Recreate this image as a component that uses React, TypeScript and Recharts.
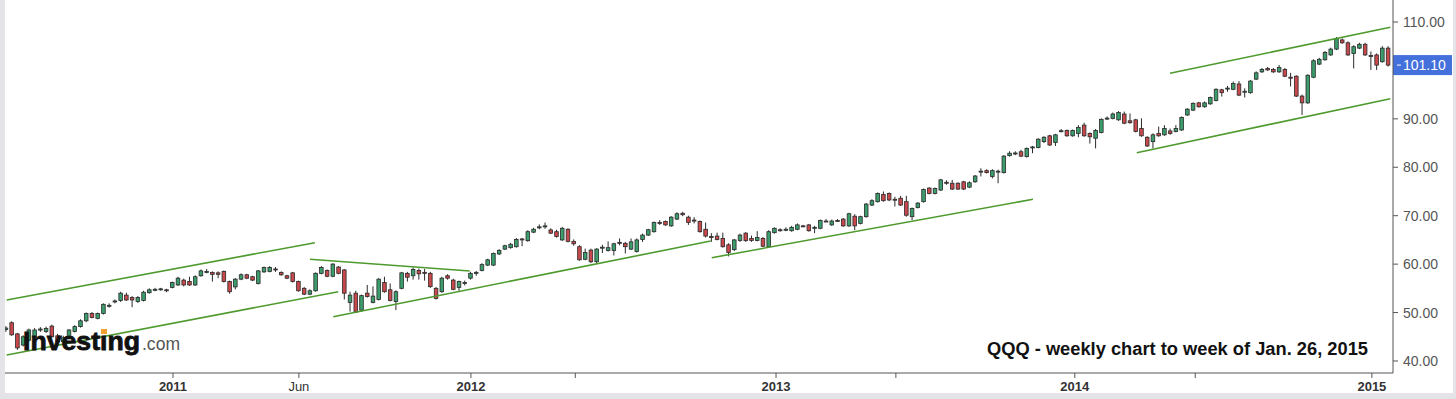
import React from "react";
import { ComposedChart, Bar, XAxis, YAxis, ReferenceLine } from "recharts";

// weekly candles, [open, high, low, close]
type Candle = [number, number, number, number];

const weeks2010: Candle[] = [
  [46.5, 47.2, 46.0, 46.8], [47.9, 48.2, 45.2, 45.4], [45.6, 45.8, 42.3, 42.7], [43.3, 45.3, 43.0, 45.0],
  [44.3, 46.7, 44.0, 46.4], [45.0, 46.8, 44.6, 46.4], [46.5, 47.0, 46.0, 46.6], [46.1, 47.1, 45.8, 46.7],
  [47.2, 47.5, 44.8, 45.0], [45.2, 45.6, 43.7, 44.0], [44.0, 45.2, 43.5, 44.8], [44.7, 46.6, 44.4, 46.4],
  [46.1, 47.4, 45.9, 47.1], [47.1, 48.6, 46.9, 48.3], [48.3, 50.0, 48.0, 49.8], [49.8, 50.1, 48.8, 49.0],
  [48.8, 50.0, 48.6, 49.8], [49.8, 51.9, 49.6, 51.7], [51.4, 51.9, 51.0, 51.5], [52.2, 52.7, 51.9, 52.4],
  [52.5, 54.3, 52.2, 54.0], [53.6, 54.1, 52.4, 52.6], [53.1, 53.4, 51.1, 52.6], [52.3, 53.4, 52.0, 53.1],
  [52.5, 54.5, 52.3, 54.2], [54.1, 55.0, 53.9, 54.7], [54.7, 55.1, 54.4, 54.8], [54.8, 55.1, 54.5, 54.9],
  [54.7, 54.9, 54.2, 54.5],
];

const weeks2011: Candle[] = [
  [55.2, 56.4, 55.0, 56.2], [55.7, 57.4, 55.5, 57.1], [56.7, 57.0, 55.4, 55.7], [56.4, 57.4, 55.5, 55.7],
  [55.7, 57.7, 55.5, 57.4], [57.6, 58.9, 57.4, 58.6], [58.4, 59.0, 58.1, 58.5], [58.3, 58.5, 56.4, 57.9],
  [58.2, 58.5, 57.1, 57.9], [58.5, 58.7, 56.2, 56.4], [56.4, 56.6, 53.9, 54.3], [55.3, 57.1, 54.8, 56.9],
  [56.9, 58.1, 56.7, 57.8], [57.8, 58.0, 56.9, 57.1], [57.4, 57.6, 56.5, 56.7], [56.0, 58.8, 55.8, 58.6],
  [58.4, 59.5, 58.2, 59.3], [58.5, 59.6, 58.3, 59.3], [59.0, 59.4, 58.4, 58.9], [58.3, 58.5, 57.6, 57.8],
  [57.6, 57.8, 56.9, 57.1], [58.2, 58.4, 56.2, 56.4], [56.4, 56.6, 54.3, 54.5], [55.0, 55.3, 53.6, 53.8],
  [53.8, 54.8, 53.6, 54.5], [54.5, 58.3, 54.3, 58.1], [58.1, 59.6, 57.9, 59.3], [58.7, 58.9, 57.3, 57.5],
  [57.5, 60.2, 57.3, 60.0], [59.4, 59.6, 57.9, 58.1], [58.8, 59.0, 52.7, 54.0], [52.1, 54.3, 50.2, 53.6],
  [54.0, 54.5, 49.9, 50.1], [50.5, 53.7, 50.2, 53.5], [54.0, 55.7, 53.1, 53.3], [52.1, 55.4, 51.9, 53.4],
  [52.7, 57.1, 52.5, 56.9], [56.2, 57.4, 54.1, 54.3], [54.7, 56.0, 52.3, 52.5], [52.3, 54.6, 50.5, 54.3],
  [55.0, 58.4, 54.8, 58.2], [58.1, 58.4, 56.4, 57.3], [57.6, 59.3, 56.8, 58.9], [58.7, 59.1, 56.8, 58.0],
  [58.3, 59.0, 56.6, 58.2], [58.1, 58.4, 55.1, 55.35], [55.0, 55.3, 52.7, 52.9], [54.3, 57.4, 54.1, 57.1],
  [57.6, 57.9, 56.8, 57.1], [56.7, 57.0, 54.6, 54.8], [55.2, 56.6, 54.5, 56.4], [56.0, 56.6, 55.6, 56.2],
];

const weeks2012: Candle[] = [
  [57.1, 58.4, 56.8, 58.1], [58.1, 58.6, 57.6, 58.3], [58.7, 60.2, 58.5, 59.9], [59.8, 61.1, 59.6, 60.9],
  [59.8, 62.4, 59.6, 62.2], [62.1, 63.1, 61.9, 62.8], [63.1, 64.0, 62.9, 63.8], [63.4, 64.4, 63.2, 64.1],
  [63.6, 65.4, 63.4, 65.1], [65.2, 65.4, 63.7, 65.1], [64.85, 67.0, 64.6, 66.7], [66.6, 67.5, 66.4, 67.2],
  [67.6, 68.2, 67.2, 67.7], [67.8, 68.6, 67.3, 67.9], [67.06, 67.4, 66.2, 66.4], [66.7, 67.1, 65.5, 65.7],
  [65.0, 67.7, 64.8, 67.4], [67.2, 67.4, 64.5, 64.7], [64.7, 65.1, 63.8, 64.2], [63.6, 63.9, 60.7, 60.9],
  [61.0, 63.2, 60.8, 62.4], [62.9, 63.2, 60.2, 60.5], [60.5, 63.3, 60.2, 63.1], [63.3, 64.0, 62.3, 63.5],
  [62.8, 64.7, 62.6, 63.4], [62.8, 64.4, 61.8, 64.2], [64.5, 65.3, 63.9, 64.4], [64.3, 64.6, 62.2, 63.6],
  [63.1, 65.3, 62.9, 64.6], [62.6, 65.3, 62.4, 65.0], [65.1, 66.3, 64.6, 66.0], [66.0, 67.3, 65.8, 67.1],
  [66.7, 68.8, 66.5, 68.6], [68.6, 69.1, 68.1, 68.5], [68.8, 69.0, 67.9, 68.1], [67.9, 69.9, 67.7, 69.7],
  [69.3, 70.7, 69.1, 70.4], [70.5, 70.8, 69.9, 70.2], [69.7, 70.0, 68.1, 68.6], [69.1, 69.7, 68.4, 68.9],
  [68.8, 69.0, 66.5, 66.7], [67.2, 68.6, 65.5, 65.8], [65.7, 66.4, 64.6, 65.6], [65.8, 66.5, 64.9, 65.1],
  [65.3, 66.5, 63.4, 63.6], [64.0, 64.3, 61.6, 62.4], [63.0, 65.2, 62.7, 65.0], [64.9, 66.3, 64.6, 66.0],
  [66.4, 66.6, 64.6, 64.85], [65.3, 65.9, 64.6, 64.9], [64.9, 66.8, 64.7, 65.5], [65.3, 65.6, 63.5, 63.7],
];

const weeks2013: Candle[] = [
  [63.6, 67.0, 63.4, 66.7], [66.5, 67.6, 66.3, 67.4], [67.1, 67.4, 66.7, 67.05], [67.1, 67.6, 66.8, 67.2],
  [66.9, 67.9, 66.7, 67.6], [67.2, 68.4, 67.0, 68.1], [67.9, 68.1, 67.7, 67.85], [68.1, 68.3, 66.7, 66.9],
  [67.5, 67.9, 66.4, 67.6], [67.4, 69.2, 67.2, 69.0], [68.9, 69.3, 68.7, 68.85], [68.1, 69.2, 67.9, 68.9],
  [69.0, 69.3, 68.8, 68.95], [69.3, 69.5, 67.7, 67.9], [67.9, 70.6, 67.7, 70.4], [69.9, 70.3, 67.0, 67.9],
  [68.4, 70.0, 68.2, 69.8], [69.8, 72.6, 69.6, 72.4], [72.2, 73.4, 72.0, 73.1], [72.9, 74.8, 72.7, 74.6],
  [74.4, 75.0, 72.9, 73.1], [74.6, 74.8, 73.0, 73.25], [73.4, 73.9, 71.9, 73.3], [73.6, 74.1, 72.0, 72.2],
  [72.9, 74.1, 69.8, 70.1], [69.8, 71.7, 69.1, 71.5], [71.7, 72.8, 71.5, 72.6], [72.9, 75.6, 72.7, 75.4],
  [75.7, 75.9, 74.4, 74.6], [74.6, 75.8, 74.4, 75.6], [75.3, 77.6, 75.1, 77.4], [76.9, 77.3, 76.4, 76.7],
  [76.7, 77.4, 75.3, 75.5], [76.7, 76.9, 75.3, 75.5], [77.0, 77.2, 75.3, 75.5], [75.9, 77.1, 75.7, 76.8],
  [77.0, 78.4, 76.8, 78.2], [79.1, 79.8, 78.1, 79.2], [79.3, 79.6, 78.7, 78.9], [78.1, 79.6, 77.7, 79.3],
  [79.1, 79.5, 76.7, 79.2], [78.9, 82.5, 78.7, 82.3], [82.4, 83.3, 82.2, 82.9], [82.85, 83.3, 82.5, 82.95],
  [83.2, 83.6, 82.1, 82.3], [82.2, 84.1, 82.0, 83.9], [84.1, 84.4, 82.9, 84.2], [84.1, 86.0, 83.9, 85.8],
  [85.3, 86.4, 85.0, 86.2], [86.5, 86.7, 84.4, 84.6], [85.1, 86.9, 84.4, 86.7], [87.45, 87.9, 87.2, 87.55],
];

const weeks2014: Candle[] = [
  [87.6, 87.8, 86.3, 86.5], [86.5, 87.8, 86.3, 87.6], [87.0, 88.7, 86.2, 88.2], [88.7, 89.2, 86.3, 86.5],
  [87.0, 87.2, 84.9, 86.3], [86.0, 87.9, 83.9, 87.6], [87.2, 90.1, 87.0, 89.9], [90.1, 90.5, 89.8, 90.15],
  [90.1, 91.3, 89.9, 91.0], [89.8, 91.6, 89.6, 91.3], [91.0, 91.5, 88.9, 89.1], [89.6, 91.1, 89.0, 89.2],
  [89.8, 90.0, 87.2, 87.4], [88.0, 90.1, 86.3, 86.5], [86.2, 86.4, 84.2, 84.4], [85.3, 87.0, 83.9, 86.7],
  [87.0, 88.4, 86.3, 86.5], [86.7, 88.7, 86.5, 88.0], [87.5, 88.0, 86.7, 87.0], [87.4, 88.7, 87.2, 88.0],
  [87.7, 90.5, 87.5, 90.3], [90.8, 92.2, 90.6, 92.0], [91.8, 93.4, 91.6, 93.2], [93.3, 93.5, 92.3, 92.5],
  [92.5, 93.6, 92.3, 93.3], [93.1, 94.6, 92.9, 94.4], [93.8, 96.3, 93.6, 96.1], [96.0, 96.2, 94.6, 95.4],
  [96.25, 96.8, 95.6, 96.35], [96.1, 97.7, 95.9, 97.3], [97.2, 97.8, 94.7, 94.9], [95.55, 96.3, 94.4, 95.7],
  [95.4, 98.0, 95.2, 97.8], [98.2, 99.8, 98.0, 99.5], [99.7, 100.5, 99.5, 100.2], [100.4, 100.7, 99.9, 100.1],
  [100.2, 100.5, 99.5, 99.7], [99.7, 101.1, 99.5, 100.6], [100.2, 100.5, 98.6, 98.8], [98.6, 99.5, 96.7, 98.5],
  [98.8, 99.0, 94.5, 94.7], [94.7, 95.0, 90.8, 93.3], [93.3, 99.2, 93.1, 99.0], [98.6, 102.3, 98.4, 102.0],
  [101.3, 102.6, 101.1, 102.3], [102.2, 104.0, 102.0, 103.7], [103.2, 104.7, 103.0, 104.4], [104.4, 106.9, 104.2, 106.6],
  [106.3, 106.6, 105.5, 105.7], [105.7, 106.0, 103.0, 103.2], [103.5, 105.2, 100.4, 104.9], [104.6, 105.7, 104.4, 105.4],
];

const weeks2015: Candle[] = [
  [105.4, 105.7, 103.0, 103.2], [103.1, 103.9, 100.1, 102.9], [103.2, 103.5, 100.1, 101.1],
  [101.8, 105.0, 101.6, 104.6], [104.6, 105.0, 100.8, 101.1],
];

const lastPrice = 101.1;

// x ticks in week numbers (week 0 = first candle)
const xTicks = [29.15, 51.1, 81.1, 99.3, 134.3, 155.2, 186.4, 207.4, 238.2];
const xTickLabels = ["2011", "Jun", "2012", "", "2013", "", "2014", "", "2015"];
const yTicks = [40, 50, 60, 70, 80, 90, 110];

// trend lines: [[week, price], [week, price]]
const trendLines: [number, number][][] = [
  [[0.16, 52.6], [53.9, 64.43]],
  [[0.16, 41.24], [57.97, 54.31]],
  [[53.04, 61.0], [80.9, 58.58]],
  [[57.1, 49.15], [122.9, 64.78]],
  [[123.1, 61.33], [179.1, 73.39]],
  [[197.2, 83.01], [241.4, 94.16]],
  [[203.0, 99.4], [241.4, 108.9]],
];

const candles = [...weeks2010, ...weeks2011, ...weeks2012, ...weeks2013, ...weeks2014, ...weeks2015];
const data = candles.map(([open, high, low, close], i) => ({
  i,
  open,
  high,
  low,
  close,
  range: [low, high],
}));

const FONT = "Liberation Sans, Arial, sans-serif";

const CandleShape = (props: any) => {
  const { x, y, width, height, payload } = props;
  if (!payload) return null;
  const { open, close, high, low } = payload;
  const top = Math.min(y, y + height);
  const h = Math.abs(height);
  const per = h / (high - low);
  const toY = (v: number) => top + (high - v) * per;
  const cx = x + width / 2;
  const up = close >= open;
  const bodyTop = toY(Math.max(open, close));
  const bodyH = Math.max(1, Math.abs(toY(open) - toY(close)));
  return (
    <g>
      <line x1={cx} x2={cx} y1={top} y2={top + h} stroke="#2a2a2a" strokeWidth={1} />
      <rect
        x={cx - 1.8}
        y={bodyTop}
        width={3.6}
        height={bodyH}
        fill={up ? "#3b9c6c" : "#c8484b"}
        stroke="#2a2a2a"
        strokeWidth={0.8}
      />
    </g>
  );
};

const XTick = (props: any) => {
  const { x, y, payload } = props;
  const idx = xTicks.indexOf(payload.value);
  const label = xTickLabels[idx] ?? "";
  return (
    <text
      x={x}
      y={y}
      dy={11}
      textAnchor="middle"
      fill="#333"
      fontSize={13}
      fontWeight={label === "Jun" ? 400 : 700}
      fontFamily={FONT}
    >
      {label}
    </text>
  );
};

const PriceTag = (props: any) => {
  const { viewBox } = props;
  if (!viewBox) return null;
  const right = viewBox.x + viewBox.width;
  const y = viewBox.y;
  return (
    <g>
      <rect x={right} y={y - 10} width={59} height={20} fill="#4470dc" />
      <line x1={right + 4} x2={right + 8} y1={y} y2={y} stroke="#fff" strokeWidth={1} />
      <text x={right + 10} y={y} dy={5} fill="#fff" fontSize={14} fontFamily={FONT}>
        {lastPrice.toFixed(2)}
      </text>
    </g>
  );
};

export default function App() {
  return (
    <div style={{ position: "relative", width: 1456, height: 399, background: "#fff", overflow: "hidden" }}>
      <style>{`body{margin:0}`}</style>
      <ComposedChart width={1456} height={399} data={data} margin={{ top: 0, right: 0, bottom: 0, left: 5 }}>
        <XAxis
          dataKey="i"
          type="number"
          domain={[-0.14, 241.88]}
          allowDataOverflow
          ticks={xTicks}
          interval={0}
          tick={<XTick />}
          tickSize={5}
          height={26}
          axisLine={{ stroke: "#555" }}
          tickLine={{ stroke: "#555" }}
        />
        <YAxis
          orientation="right"
          type="number"
          domain={[37.52, 114.54]}
          allowDataOverflow
          ticks={yTicks}
          interval={0}
          tickFormatter={(v: number) => v.toFixed(2)}
          width={63}
          tickSize={5}
          tickMargin={5}
          tick={{ fill: "#555", fontSize: 14, fontFamily: FONT }}
          axisLine={{ stroke: "#555" }}
          tickLine={{ stroke: "#555" }}
        />
        <Bar dataKey="range" barSize={4} shape={<CandleShape />} isAnimationActive={false} />
        {trendLines.map((seg, k) => (
          <ReferenceLine
            key={k}
            segment={[
              { x: seg[0][0], y: seg[0][1] },
              { x: seg[1][0], y: seg[1][1] },
            ]}
            stroke="#4e9a2e"
            strokeWidth={1.6}
            ifOverflow="visible"
          />
        ))}
        <ReferenceLine y={lastPrice} stroke="none" ifOverflow="visible" label={<PriceTag />} />
      </ComposedChart>
      <svg width={1456} height={399} style={{ position: "absolute", left: 0, top: 0, pointerEvents: "none" }}>
        <text
          x={23}
          y={350}
          fontSize={26}
          fontWeight={900}
          fill="#111"
          stroke="#111"
          strokeWidth={0.8}
          textLength={117}
          lengthAdjust="spacingAndGlyphs"
          fontFamily={FONT}
        >
          Investing
        </text>
        <rect x={101} y={329} width={6} height={5} fill="#f0a030" />
        <text x={142} y={350} fontSize={19} fill="#555" textLength={38} lengthAdjust="spacingAndGlyphs" fontFamily={FONT}>
          .com
        </text>
        <text
          x={987}
          y={355}
          fontSize={18}
          fontWeight={700}
          fill="#111"
          textLength={381}
          lengthAdjust="spacingAndGlyphs"
          fontFamily={FONT}
        >
          QQQ - weekly chart to week of Jan. 26, 2015
        </text>
        <rect x={0} y={0} width={5} height={399} fill="#e4e4e8" />
        <rect x={0} y={393} width={1456} height={6} fill="#e4e4e8" />
        <rect x={1453} y={0} width={3} height={399} fill="#e4e4e8" />
      </svg>
    </div>
  );
}
